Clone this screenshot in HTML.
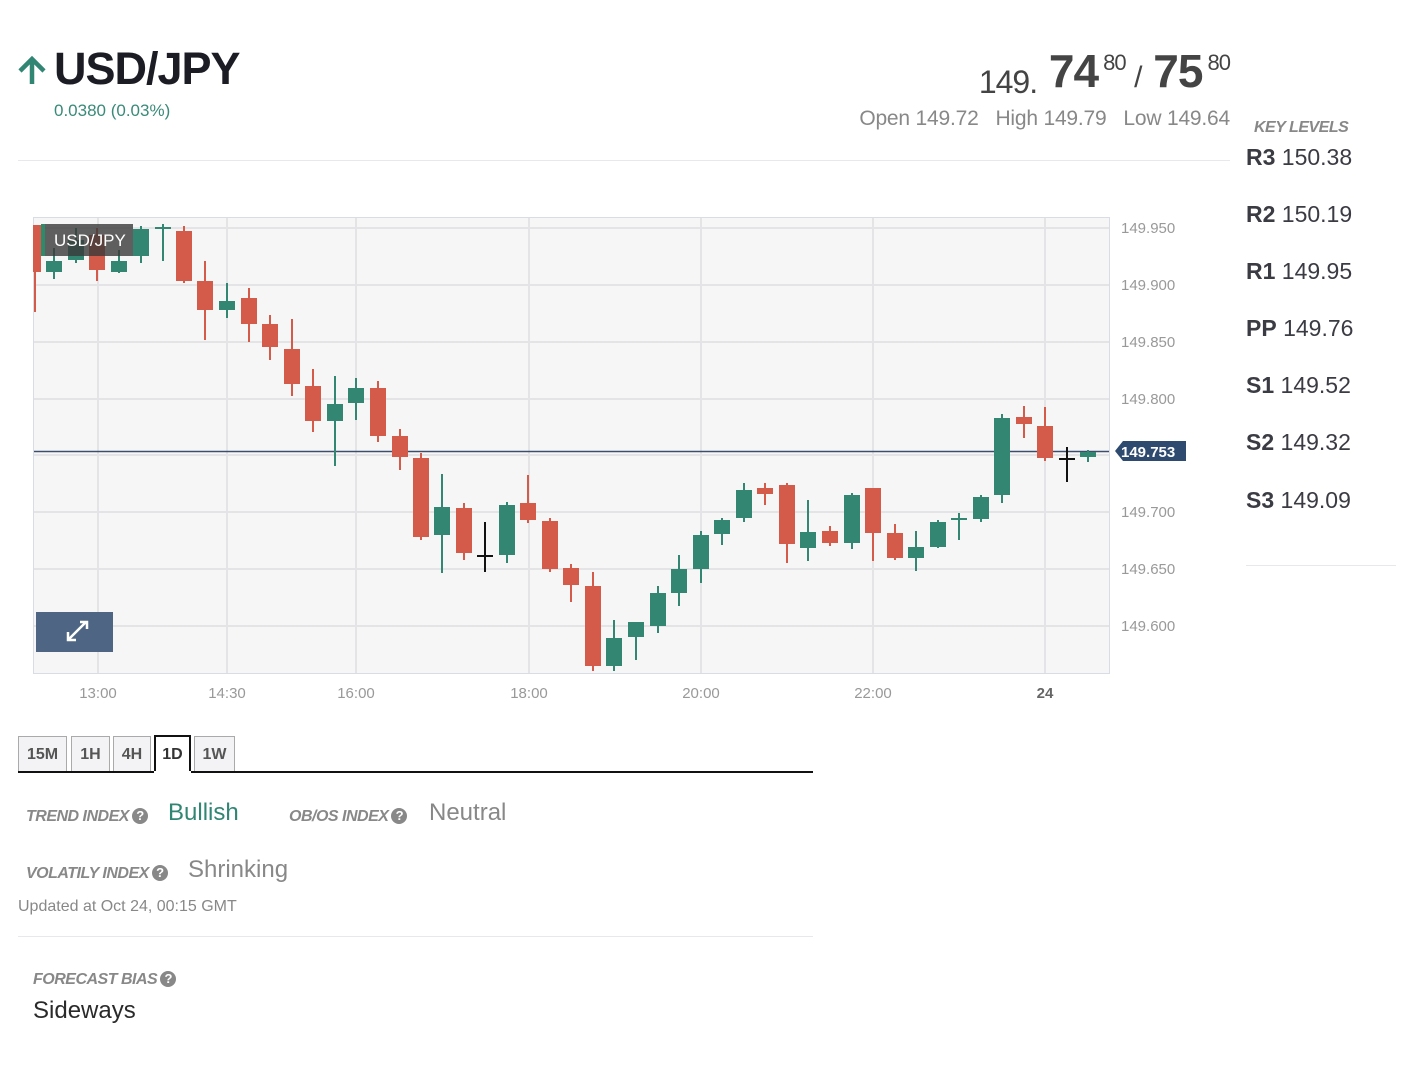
<!DOCTYPE html>
<html><head><meta charset="utf-8"><style>
body{margin:0;width:1407px;height:1072px;background:#fff;font-family:"Liberation Sans",sans-serif;position:relative;overflow:hidden}
.a{position:absolute;white-space:nowrap}
.q{display:inline-block;width:16px;height:16px;border-radius:50%;background:#888;color:#fff;font-size:13px;font-weight:bold;font-style:normal;text-align:center;line-height:16px;vertical-align:1px;margin-left:3px}
.lbl{font-size:16px;font-style:italic;font-weight:bold;color:#888;letter-spacing:-0.5px}
.kl{font-size:23px;color:#3b3b44;left:1246px}
.kl b{color:#3b3b44}
.tab{position:absolute;top:736px;height:35px;background:#f3f3f6;border:1px solid #aaa;border-bottom:none;box-sizing:border-box;font-size:16px;font-weight:bold;color:#555;text-align:center;line-height:36px}
</style></head><body>
<svg class="a" style="left:16px;top:56px" width="32" height="30" viewBox="0 0 32 30"><path d="M16 28 V4 M4 15 L16 3 L28 15" stroke="#318673" stroke-width="4.5" fill="none"/></svg>
<div class="a" style="left:54px;top:43px;font-size:45px;font-weight:bold;color:#1c1c24;letter-spacing:-1px">USD/JPY</div>
<div class="a" style="left:54px;top:101px;font-size:17px;color:#3a8a78">0.0380 (0.03%)</div>

<div class="a" style="right:177px;top:44px;color:#444;font-size:34px;letter-spacing:-1px"><span style="font-size:32px;position:relative;top:6px">149.</span><b style="font-size:46px"> 74</b><span style="font-size:22px;position:relative;top:-17px"> 80</span> <span style="font-size:30px">/</span><b style="font-size:46px"> 75</b><span style="font-size:22px;position:relative;top:-17px"> 80</span></div>
<div class="a" style="right:177px;top:107px;font-size:21px;color:#888;letter-spacing:-0.2px">Open 149.72&nbsp;&nbsp; High 149.79&nbsp;&nbsp; Low 149.64</div>
<div class="a" style="left:18px;top:160px;width:1212px;height:1px;background:#e8e8ec"></div>

<div class="a lbl" style="left:1254px;top:119px">KEY LEVELS</div>
<div class="a kl" style="top:144px"><b>R3</b> 150.38</div>
<div class="a kl" style="top:201px"><b>R2</b> 150.19</div>
<div class="a kl" style="top:258px"><b>R1</b> 149.95</div>
<div class="a kl" style="top:315px"><b>PP</b> 149.76</div>
<div class="a kl" style="top:372px"><b>S1</b> 149.52</div>
<div class="a kl" style="top:429px"><b>S2</b> 149.32</div>
<div class="a kl" style="top:487px"><b>S3</b> 149.09</div>
<div class="a" style="left:1246px;top:565px;width:150px;height:1px;background:#e8e8ec"></div>

<svg class="a" style="left:0;top:0" width="1230" height="720">
<rect x="33.5" y="217.5" width="1076" height="456" fill="#f6f6f6" stroke="#d8dce6"/>
<g stroke="#e4e4e6" stroke-width="2">
<line x1="34" x2="1109" y1="228" y2="228"/><line x1="34" x2="1109" y1="285" y2="285"/><line x1="34" x2="1109" y1="342" y2="342"/><line x1="34" x2="1109" y1="399" y2="399"/><line x1="34" x2="1109" y1="455" y2="455"/><line x1="34" x2="1109" y1="512" y2="512"/><line x1="34" x2="1109" y1="569" y2="569"/><line x1="34" x2="1109" y1="626" y2="626"/>
<line y1="218" y2="673" x1="98" x2="98"/><line y1="218" y2="673" x1="227" x2="227"/><line y1="218" y2="673" x1="356" x2="356"/><line y1="218" y2="673" x1="529" x2="529"/><line y1="218" y2="673" x1="701" x2="701"/><line y1="218" y2="673" x1="873" x2="873"/><line y1="218" y2="673" x1="1045" x2="1045"/>
</g>
<g font-size="15" fill="#999" text-anchor="start">
<text x="1121" y="233">149.950</text><text x="1121" y="290">149.900</text><text x="1121" y="347">149.850</text><text x="1121" y="404">149.800</text><text x="1121" y="517">149.700</text><text x="1121" y="574">149.650</text><text x="1121" y="631">149.600</text>
</g>
<g font-size="15" fill="#999" text-anchor="middle">
<text x="98" y="698">13:00</text><text x="227" y="698">14:30</text><text x="356" y="698">16:00</text><text x="529" y="698">18:00</text><text x="701" y="698">20:00</text><text x="873" y="698">22:00</text><text x="1045" y="698" font-weight="bold" fill="#666">24</text>
</g>
<line x1="34" x2="1109" y1="451.5" y2="451.5" stroke="#3c4e6e" stroke-width="1.5"/>
<g stroke-width="2">
<g fill="#d45a4a" stroke="#d45a4a">
<line x1="35" x2="35" y1="225" y2="312"/><rect x="33" y="225" width="8" height="47" stroke="none"/>
<line x1="97" x2="97" y1="228" y2="281"/><rect x="89" y="235" width="16" height="35" stroke="none"/>
<line x1="184" x2="184" y1="226" y2="283"/><rect x="176" y="231" width="16" height="50" stroke="none"/>
<line x1="205" x2="205" y1="261" y2="340"/><rect x="197" y="281" width="16" height="29" stroke="none"/>
<line x1="249" x2="249" y1="288" y2="342"/><rect x="241" y="298" width="16" height="26" stroke="none"/>
<line x1="270" x2="270" y1="315" y2="360"/><rect x="262" y="324" width="16" height="23" stroke="none"/>
<line x1="292" x2="292" y1="319" y2="396"/><rect x="284" y="349" width="16" height="35" stroke="none"/>
<line x1="313" x2="313" y1="369" y2="432"/><rect x="305" y="386" width="16" height="35" stroke="none"/>
<line x1="378" x2="378" y1="381" y2="442"/><rect x="370" y="388" width="16" height="48" stroke="none"/>
<line x1="400" x2="400" y1="429" y2="470"/><rect x="392" y="436" width="16" height="21" stroke="none"/>
<line x1="421" x2="421" y1="453" y2="540"/><rect x="413" y="458" width="16" height="79" stroke="none"/>
<line x1="464" x2="464" y1="503" y2="560"/><rect x="456" y="508" width="16" height="45" stroke="none"/>
<line x1="528" x2="528" y1="475" y2="523"/><rect x="520" y="503" width="16" height="17" stroke="none"/>
<line x1="550" x2="550" y1="518" y2="572"/><rect x="542" y="521" width="16" height="48" stroke="none"/>
<line x1="571" x2="571" y1="564" y2="602"/><rect x="563" y="568" width="16" height="17" stroke="none"/>
<line x1="593" x2="593" y1="572" y2="671"/><rect x="585" y="586" width="16" height="80" stroke="none"/>
<line x1="765" x2="765" y1="483" y2="505"/><rect x="757" y="488" width="16" height="6" stroke="none"/>
<line x1="787" x2="787" y1="483" y2="563"/><rect x="779" y="485" width="16" height="59" stroke="none"/>
<line x1="830" x2="830" y1="526" y2="546"/><rect x="822" y="531" width="16" height="12" stroke="none"/>
<line x1="873" x2="873" y1="488" y2="561"/><rect x="865" y="488" width="16" height="45" stroke="none"/>
<line x1="895" x2="895" y1="524" y2="560"/><rect x="887" y="533" width="16" height="25" stroke="none"/>
<line x1="1024" x2="1024" y1="406" y2="438"/><rect x="1016" y="417" width="16" height="7" stroke="none"/>
<line x1="1045" x2="1045" y1="407" y2="461"/><rect x="1037" y="426" width="16" height="32" stroke="none"/>
</g>
<g fill="#338672" stroke="#338672">
<line x1="54" x2="54" y1="248" y2="279"/><rect x="46" y="261" width="16" height="11" stroke="none"/>
<line x1="76" x2="76" y1="228" y2="263"/><rect x="68" y="240" width="16" height="20" stroke="none"/>
<line x1="119" x2="119" y1="250" y2="273"/><rect x="111" y="261" width="16" height="11" stroke="none"/>
<line x1="141" x2="141" y1="226" y2="263"/><rect x="133" y="229" width="16" height="27" stroke="none"/>
<line x1="163" x2="163" y1="224" y2="261"/><rect x="155" y="227" width="16" height="2" stroke="none"/>
<line x1="227" x2="227" y1="283" y2="318"/><rect x="219" y="301" width="16" height="9" stroke="none"/>
<line x1="335" x2="335" y1="376" y2="466"/><rect x="327" y="404" width="16" height="17" stroke="none"/>
<line x1="356" x2="356" y1="378" y2="420"/><rect x="348" y="388" width="16" height="15" stroke="none"/>
<line x1="442" x2="442" y1="474" y2="573"/><rect x="434" y="507" width="16" height="28" stroke="none"/>
<line x1="507" x2="507" y1="502" y2="563"/><rect x="499" y="505" width="16" height="50" stroke="none"/>
<line x1="614" x2="614" y1="620" y2="671"/><rect x="606" y="638" width="16" height="28" stroke="none"/>
<line x1="636" x2="636" y1="622" y2="660"/><rect x="628" y="622" width="16" height="15" stroke="none"/>
<line x1="658" x2="658" y1="586" y2="633"/><rect x="650" y="593" width="16" height="33" stroke="none"/>
<line x1="679" x2="679" y1="555" y2="606"/><rect x="671" y="569" width="16" height="24" stroke="none"/>
<line x1="701" x2="701" y1="531" y2="583"/><rect x="693" y="535" width="16" height="34" stroke="none"/>
<line x1="722" x2="722" y1="518" y2="545"/><rect x="714" y="520" width="16" height="14" stroke="none"/>
<line x1="744" x2="744" y1="483" y2="522"/><rect x="736" y="490" width="16" height="28" stroke="none"/>
<line x1="808" x2="808" y1="500" y2="561"/><rect x="800" y="532" width="16" height="16" stroke="none"/>
<line x1="852" x2="852" y1="493" y2="549"/><rect x="844" y="495" width="16" height="48" stroke="none"/>
<line x1="916" x2="916" y1="531" y2="571"/><rect x="908" y="547" width="16" height="11" stroke="none"/>
<line x1="938" x2="938" y1="520" y2="548"/><rect x="930" y="522" width="16" height="25" stroke="none"/>
<line x1="959" x2="959" y1="513" y2="540"/><rect x="951" y="518" width="16" height="2" stroke="none"/>
<line x1="981" x2="981" y1="495" y2="522"/><rect x="973" y="497" width="16" height="22" stroke="none"/>
<line x1="1002" x2="1002" y1="414" y2="503"/><rect x="994" y="418" width="16" height="77" stroke="none"/>
<line x1="1088" x2="1088" y1="450" y2="462"/><rect x="1080" y="452" width="16" height="5" stroke="none"/>
</g>
<g stroke="#111">
<line x1="485" x2="485" y1="522" y2="572"/><line x1="477" x2="493" y1="556" y2="556"/>
<line x1="1067" x2="1067" y1="447" y2="482"/><line x1="1059" x2="1075" y1="459" y2="459"/>
</g>
</g>
<rect x="41" y="224" width="92" height="32" fill="#3a3a3a" opacity="0.8"/>
<rect x="41" y="224" width="4" height="32" fill="#2d8a6a"/>
<text x="54" y="246" font-size="17" fill="#fff">USD/JPY</text>
<path d="M1115 451 L1123 441 H1186 V461 H1123 Z" fill="#2e4a6e"/>
<text x="1121" y="457" font-size="15" font-weight="bold" fill="#fff">149.753</text>
<rect x="36" y="612" width="77" height="40" fill="#4e6584"/>
<path d="M69 639 L86 622 M80 622 H87 V629 M68 632 V640 H76" stroke="#fff" stroke-width="2.5" fill="none"/>
</svg>

<div class="tab" style="left:18px;width:49px">15M</div>
<div class="tab" style="left:71px;width:39px">1H</div>
<div class="tab" style="left:113px;width:38px">4H</div>
<div class="tab" style="left:154px;width:37px;background:#fff;border:2px solid #111;border-bottom:none;top:735px;height:38px;color:#333">1D</div>
<div class="tab" style="left:194px;width:41px">1W</div>
<div class="a" style="left:18px;top:771px;width:795px;height:2px;background:#111"></div>
<div class="a" style="left:154px;top:771px;width:37px;height:2px;background:#fff"></div>

<div class="a lbl" style="left:26px;top:808px">TREND INDEX<span class="q">?</span></div>
<div class="a" style="left:168px;top:799px;font-size:24px;color:#318673">Bullish</div>
<div class="a lbl" style="left:289px;top:808px">OB/OS INDEX<span class="q">?</span></div>
<div class="a" style="left:429px;top:799px;font-size:24px;color:#888">Neutral</div>
<div class="a lbl" style="left:26px;top:865px">VOLATILY INDEX<span class="q">?</span></div>
<div class="a" style="left:188px;top:856px;font-size:24px;color:#888">Shrinking</div>
<div class="a" style="left:18px;top:898px;font-size:16px;color:#888">Updated at Oct 24, 00:15 GMT</div>
<div class="a" style="left:18px;top:936px;width:795px;height:1px;background:#e8e8ec"></div>
<div class="a lbl" style="left:33px;top:971px">FORECAST BIAS<span class="q">?</span></div>
<div class="a" style="left:33px;top:997px;font-size:24px;color:#2a2a2a">Sideways</div>
</body></html>
